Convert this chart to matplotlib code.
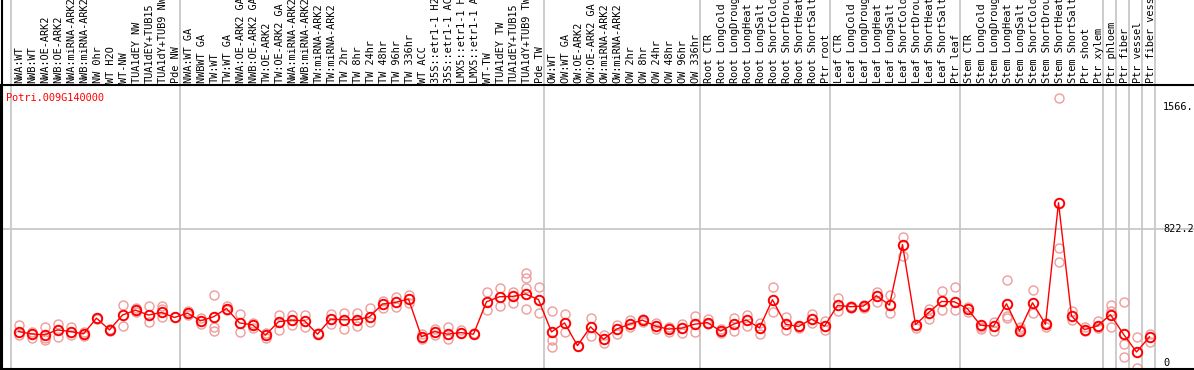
import numpy as np
import matplotlib
matplotlib.use("Agg")
import matplotlib.pyplot as plt

gene = "Potri.009G140000"

samples = [
    "NWA:WT", "NWB:WT", "NWA:OE-ARK2", "NWB:OE-ARK2", "NWA:miRNA-ARK2", "NWB:miRNA-ARK2",
    "NW 0hr", "WT H2O", "WT-NW", "TUA1dEY NW", "TUA1dEY+TUB15", "TUA1dY+TUB9 NW", "Pde NW",
    "NWA:WT GA", "NWBWT GA", "TW:WT", "TW:WT GA", "NWA:OE-ARK2 GA", "NWB:OE-ARK2 GA",
    "TW:OE-ARK2", "TW:OE-ARK2 GA", "NWA:miRNA-ARK2", "NWB:miRNA-ARK2", "TW:miRNA-ARK2",
    "TW:miRNA-ARK2", "TW 2hr", "TW 8hr", "TW 24hr", "TW 48hr", "TW 96hr", "TW 336hr", "WT ACC",
    "35S::etr1-1 H2", "35S::etr1-1 AC", "LMX5::etr1-1 H", "LMX5::etr1-1 A", "WT-TW",
    "TUA1dEY TW", "TUA1dEY+TUB15", "TUA1dY+TUB9 TW", "Pde TW",
    "OW:WT", "OW:WT GA", "OW:OE-ARK2", "OW:OE-ARK2 GA", "OW:miRNA-ARK2", "OW:miRNA-ARK2",
    "OW 2hr", "OW 8hr", "OW 24hr", "OW 48hr", "OW 96hr", "OW 336hr",
    "Root CTR", "Root LongCold", "Root LongDroug", "Root LongHeat", "Root LongSalt",
    "Root ShortCold", "Root ShortDrou", "Root ShortHeat", "Root ShortSalt", "Ptr root",
    "Leaf CTR", "Leaf LongCold", "Leaf LongDroug", "Leaf LongHeat", "Leaf LongSalt",
    "Leaf ShortCold", "Leaf ShortDrou", "Leaf ShortHeat", "Leaf ShortSalt", "Ptr leaf",
    "Stem CTR", "Stem LongCold", "Stem LongDroug", "Stem LongHeat", "Stem LongSalt",
    "Stem ShortCold", "Stem ShortDrou", "Stem ShortHeat", "Stem ShortSalt", "Ptr shoot",
    "Ptr xylem", "Ptr phloem", "Ptr fiber", "Ptr vessel", "Ptr fiber vess",
]

# size of each sample group (separated by grey lines)
group_sizes = [13, 28, 12, 10, 10, 11, 1, 1, 1, 1]

means = [
    192, 178, 172, 202, 192, 178, 274, 202, 293, 323, 293, 309, 278,
    305, 258, 282, 333, 245, 233, 170, 252, 262, 258, 176, 268, 264, 264, 282,
    360, 370, 391, 160, 192, 176, 186, 176, 374, 405, 407, 422, 387,
    190, 245, 106, 221, 145, 207, 237, 262, 225, 207, 213, 237,
    247, 195, 237, 262, 215, 387, 237, 223, 268, 225,
    352, 344, 348, 411, 354, 724, 235, 307, 376, 374,
    331, 231, 225, 362, 196, 368, 237, 980, 288, 204, 227,
    295, 176, 67, 160,
]

reps = [
    [233, 172], [192, 153], [217, 141, 155], [239, 160], [217, 172], [192, 164],
    [276, 270], [209, 196], [354, 227], [339, 309], [350, 252], [350, 330, 282],
    [278], [315, 295], [274, 237], [417, 217, 196], [350, 325], [299, 188],
    [247, 213], [186, 155], [293, 204], [293, 233], [293, 221], [186], [302, 237],
    [305, 207], [305, 227], [337, 253], [380, 339], [401, 344], [417, 364],
    [176, 145], [210, 172], [221, 149], [202, 186], [186], [436, 325], [460, 348],
    [431, 368], [548, 520, 456, 333], [465, 305],
    [319, 143, 98], [299, 190], [106], [276, 166], [170, 121], [233, 180],
    [262, 217], [270, 252], [247, 207], [217, 192], [237, 186], [288, 192],
    [268, 241], [207, 186], [272, 196], [293, 223], [247, 176], [465, 313],
    [278, 204], [229, 215], [302, 244], [258, 204],
    [399, 317], [350, 337], [356, 337], [436, 374], [417, 305], [773, 652],
    [213], [333, 268], [442, 323], [466, 325],
    [344, 309], [217, 209], [253, 196], [507, 288, 272], [217, 209], [446, 305],
    [245, 221], [1618, 704, 618], [319, 262], [217, 196], [258, 215],
    [356, 319, 217], [374, 115, 35], [158, -31], [176, 129],
]

y_ticks = [0, 822.2, 1566]
y_tick_labels = ["0", "822.2", "1566."]

mono = "DejaVu Sans Mono"
fs = 7.4

fig = plt.figure(figsize=(11.94, 3.70), dpi=100)
H = 370.0
W = 1194.0
ax = fig.add_axes([1 / W, 1 / H, 1 - 1 / W, (369 - 85) / H])

x = np.arange(len(samples))
ax.set_xlim((1 - 18.5) / 13, (1194 - 18.5) / 13)
ax.set_ylim(-37, 1700)

# replicate points
for i, r in enumerate(reps):
    ax.plot([i] * len(r), r, 'o', ms=6.5, mfc='none', mec='#ee9c9c', mew=1.0, zorder=2)

ax.plot(x, means, '-', color='red', lw=1, zorder=3)
ax.plot(x, means, 'o', ms=6.8, mfc='none', mec='red', mew=1.4, zorder=4)

# group separators, running up through the label area
bounds = np.concatenate([[0], np.cumsum(group_sizes)]) - 0.577
ext = 369 / 284.0
for b in bounds:
    ax.axvline(b, ymin=0, ymax=ext, color='#c4c4c4', lw=1.2, clip_on=False, zorder=1)

ax.axhline(822.2, color='#c4c4c4', lw=1.2, zorder=1)

# sample names
for i, s in enumerate(samples):
    ax.text(i + 0.08, 1 + 2 / 284.0, s, transform=ax.get_xaxis_transform(),
            rotation=90, ha='center', va='bottom', family=mono, fontsize=fs,
            clip_on=False)

for v, lab in zip(y_ticks, y_tick_labels):
    ax.text(88.05, v, lab, ha='left', va='center', family=mono, fontsize=fs)

ax.text(0.004, 0.955, gene, transform=ax.transAxes, color='red',
        family=mono, fontsize=fs, ha='left', va='center')

ax.set_xticks([])
ax.set_yticks([])
ax.spines['right'].set_visible(False)
for sp in ['left', 'top', 'bottom']:
    ax.spines[sp].set_color('black')
    ax.spines[sp].set_linewidth(1.5)

# left frame line continues into the header
fig.add_artist(plt.Line2D([1.5 / W, 1.5 / W], [1 / H, 1], color='black', lw=1.5))

fig.savefig("out.png", dpi=100)
